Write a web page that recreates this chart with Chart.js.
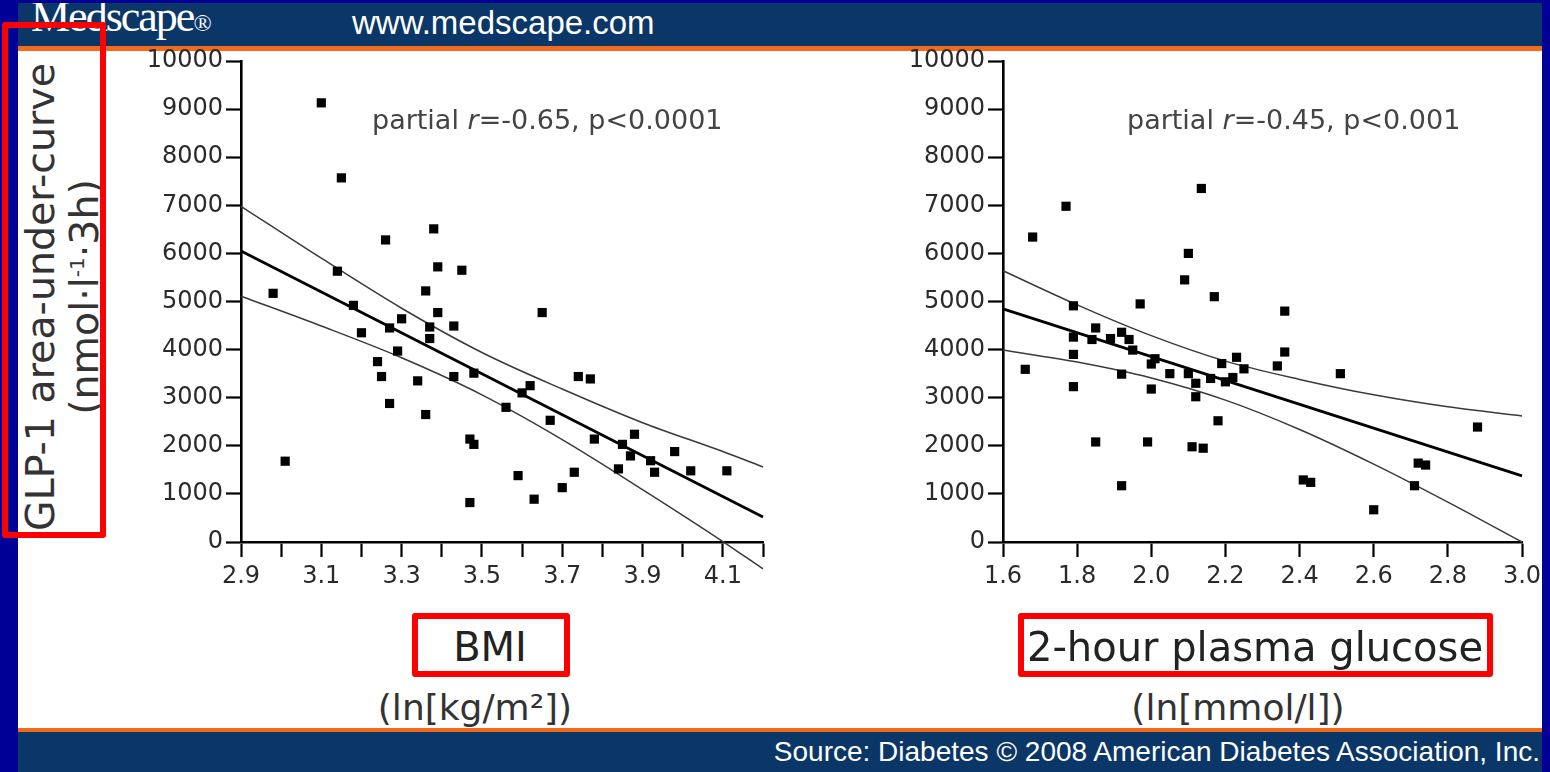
<!DOCTYPE html>
<html lang="en">
<head>
<meta charset="utf-8">
<title>GLP-1 area-under-curve vs BMI and 2-hour plasma glucose</title>
<script src="https://cdn.jsdelivr.net/npm/chart.js@4.4.1/dist/chart.umd.min.js"></script>
<style>
  html, body { margin: 0; padding: 0; }
  body { width: 1550px; height: 772px; position: relative; overflow: hidden; background: #000096; font-family: "DejaVu Sans", Verdana, sans-serif; }
  .band { position: absolute; left: 18px; width: 1524px; background: #0b3668; overflow: hidden; }
  #header { top: 3px; height: 43px; }
  #footer { top: 732px; height: 40px; }
  .rule { position: absolute; left: 18px; width: 1524px; background: #f26a1b; }
  #panel { position: absolute; left: 18px; top: 51px; width: 1524px; height: 677px; background: #fff; }
  #brand { position: absolute; left: 13px; top: -8px; font: 44px/44px "Liberation Serif", serif; color: #fff; letter-spacing: -2px; }
  #brand small { font-size: 24px; letter-spacing: 0; }
  #site { position: absolute; left: 334px; top: 0px; font: 33px/40px "Liberation Sans", Arial, sans-serif; color: #fff; }
  #source { position: absolute; right: 2px; top: 4px; font: 28px/32px "Liberation Sans", Arial, sans-serif; color: #fff; white-space: nowrap; }
  canvas { position: absolute; z-index: 2; }
  #edgeRight { position: absolute; left: 1542px; top: 0; width: 8px; height: 772px; background: #000096; z-index: 3; }
  .txt { position: absolute; white-space: nowrap; text-align: center; color: #222; z-index: 4; }
  .note { position: absolute; white-space: nowrap; color: #444; font-size: 27px; line-height: 30px; z-index: 4; }
  .box { position: absolute; box-sizing: border-box; border: 6px solid #ff0000; border-radius: 3px; z-index: 5; }
  #yTitle { position: absolute; left: -178px; top: 253px; width: 480px; height: 88px; transform: rotate(-90deg); transform-origin: 50% 50%; text-align: center; color: #333; font-size: 39.5px; line-height: 44px; z-index: 4; white-space: nowrap; }
  #yTitle sup { font-size: 20px; vertical-align: 14px; line-height: 0; }
</style>
</head>
<body>
<div id="header" class="band">
  <div id="brand">Medscape<small>®</small></div>
  <div id="site">www.medscape.com</div>
</div>
<div class="rule" style="top:46px;height:5px"></div>
<div id="panel"></div>
<div class="rule" style="top:728px;height:4px"></div>
<div id="footer" class="band">
  <div id="source">Source: Diabetes © 2008 American Diabetes Association, Inc.</div>
</div>

<div id="yTitle">GLP-1 area-under-curve<br>(nmol·l<sup>-1</sup>·3h)</div>
<div class="box" style="left:2px;top:22px;width:104px;height:516px"></div>

<canvas id="bmiChart" width="660" height="580" style="left:120px;top:40px"></canvas>
<canvas id="glucoseChart" width="680" height="580" style="left:870px;top:40px"></canvas>
<div id="edgeRight"></div>

<div class="note" style="left:372px;top:105px">partial <i>r</i>=-0.65, p&lt;0.0001</div>
<div class="note" style="left:1127px;top:105px">partial <i>r</i>=-0.45, p&lt;0.001</div>

<div class="txt" style="left:290px;top:624px;width:400px;font-size:40px;line-height:46px">BMI</div>
<div class="box" style="left:412px;top:613px;width:158px;height:64px"></div>
<div class="txt" style="left:275px;top:688px;width:400px;font-size:36px;line-height:40px;color:#333">(ln[kg/m²])</div>

<div class="txt" style="left:955px;top:624px;width:600px;font-size:40px;line-height:46px">2-hour plasma glucose</div>
<div class="box" style="left:1018px;top:613px;width:475px;height:64px"></div>
<div class="txt" style="left:1038px;top:688px;width:400px;font-size:36px;line-height:40px;color:#333">(ln[mmol/l])</div>

<script>
// GLP-1 AUC (nmol·l-1·3h) against ln(BMI)
const bmiValues = [3.10, 3.15, 2.98, 3.38, 3.26, 3.39, 3.45, 3.14, 3.36, 3.39, 3.65, 3.18, 3.30,
  3.20, 3.27, 3.37, 3.43, 3.37, 3.29, 3.24, 3.25, 3.34, 3.27, 3.36, 3.43, 3.48, 3.62, 3.60,
  3.56, 3.67, 3.74, 3.77, 3.47, 3.48, 3.01, 3.59, 3.63, 3.47, 3.70, 3.73, 3.78, 3.85, 3.88,
  3.87, 3.84, 3.92, 3.93, 3.98, 4.02, 4.11];
const glpByBmi = [9130, 7570, 5170, 6510, 6280, 5720, 5650, 5630, 5220, 4770, 4770, 4920, 4640,
  4350, 4450, 4470, 4490, 4230, 3970, 3750, 3440, 3350, 2880, 2650, 3440, 3510, 3250, 3100,
  2800, 2530, 3440, 3390, 2140, 2030, 1680, 1380, 890, 820, 1130, 1450, 2140, 2030, 2240,
  1790, 1520, 1690, 1450, 1880, 1480, 1480];

// Regression line and its confidence band (BMI panel)
const bmiFitX = [2.9, 4.2];
const bmiFitY = [6050, 520];
const bmiBandX = [2.9, 3.1, 3.3, 3.5, 3.7, 3.9, 4.1, 4.2];
const bmiBandUpper = [6980, 5900, 4860, 3940, 3180, 2480, 1880, 1560];
const bmiBandLower = [5110, 4490, 3830, 3060, 2130, 1090, 10, -560];

// GLP-1 AUC against ln(2-hour plasma glucose)
const glucoseValues = [2.135, 1.77, 1.68, 2.10, 2.09, 2.17, 1.97, 1.79, 2.36, 1.85, 1.79, 1.84,
  1.89, 1.92, 1.94, 1.95, 1.79, 1.66, 1.92, 1.79, 2.01, 2.00, 2.00, 2.05, 2.10, 2.12, 2.12,
  2.16, 2.19, 2.23, 2.20, 2.22, 2.25, 2.18, 2.34, 2.36, 2.51, 2.88, 1.85, 1.99, 2.11, 2.14,
  1.92, 2.41, 2.43, 2.72, 2.74, 2.71, 2.60, 2.02];
const glpByGlucose = [7350, 6980, 6340, 6000, 5450, 5100, 4950, 4910, 4800, 4450, 4260, 4210,
  4230, 4360, 4210, 3990, 3900, 3590, 3490, 3230, 3810, 3700, 3180, 3500, 3500, 3300, 3020,
  3400, 3710, 3840, 3330, 3420, 3600, 2520, 3660, 3950, 3500, 2390, 2080, 2080, 1980, 1950,
  1170, 1290, 1240, 1640, 1600, 1170, 670, -170];

// Regression line and its confidence band (glucose panel)
const glucoseFitX = [1.6, 3.0];
const glucoseFitY = [4845, 1375];
const glucoseBandX = [1.6, 1.8, 2.0, 2.2, 2.4, 2.6, 2.8, 3.0];
const glucoseBandUpper = [5640, 4930, 4290, 3760, 3380, 3060, 2810, 2620];
const glucoseBandLower = [3990, 3740, 3410, 2950, 2340, 1620, 830, 0];

// Axis ticks and labels
const glpTicks = [0, 1000, 2000, 3000, 4000, 5000, 6000, 7000, 8000, 9000, 10000];
const bmiTicks = [2.9, 3.0, 3.1, 3.2, 3.3, 3.4, 3.5, 3.6, 3.7, 3.8, 3.9, 4.0, 4.1, 4.2];
const bmiTickLabels = ['2.9', '3.1', '3.3', '3.5', '3.7', '3.9', '4.1'];
const glucoseTicks = [1.6, 1.8, 2.0, 2.2, 2.4, 2.6, 2.8, 3.0];
const glucoseTickLabels = ['1.6', '1.8', '2.0', '2.2', '2.4', '2.6', '2.8', '3.0'];

Chart.defaults.font.family = '"DejaVu Sans", Verdana, sans-serif';
Chart.defaults.color = '#333';

const pairs = (xs, ys) => xs.map((x, i) => ({ x: x, y: ys[i] }));

function panel(canvasId, o) {
  const datasets = [
    { data: pairs(o.xs, o.ys), pointStyle: 'rect', pointRadius: 6.5, pointBorderWidth: 0,
      backgroundColor: '#000', borderColor: '#000', clip: false },
    { data: pairs(o.fitX, o.fitY), showLine: true, pointRadius: 0, borderColor: '#000', borderWidth: 2.8, clip: false },
    { data: pairs(o.bandX, o.upper), showLine: true, pointRadius: 0, borderColor: '#3a3a3a', borderWidth: 1.5,
      cubicInterpolationMode: 'monotone', clip: false },
    { data: pairs(o.bandX, o.lower), showLine: true, pointRadius: 0, borderColor: '#3a3a3a', borderWidth: 1.5,
      cubicInterpolationMode: 'monotone', clip: false }
  ];
  return new Chart(document.getElementById(canvasId), {
    type: 'scatter',
    data: { datasets: datasets },
    options: {
      responsive: false,
      animation: false,
      devicePixelRatio: 1,
      layout: { padding: { left: 0, right: o.padRight, top: 21, bottom: 18 } },
      plugins: { legend: { display: false }, tooltip: { enabled: false } },
      scales: {
        x: {
          type: 'linear', min: o.xMin, max: o.xMax,
          afterBuildTicks: s => { s.ticks = o.xTicks.map(v => ({ value: v })); },
          afterFit: s => { s.height = 60; },
          border: { display: true, color: '#000', width: 2.6 },
          grid: { display: true, drawOnChartArea: false, drawTicks: true, tickLength: 15,
                  tickColor: '#000', tickWidth: 2.2 },
          ticks: { autoSkip: false, maxRotation: 0, padding: 5, color: '#2a2a2a', font: { size: 24 },
                   callback: v => { const t = Number(v).toFixed(1); return o.xLabels.includes(t) ? t : ''; } }
        },
        y: {
          type: 'linear', min: 0, max: 10000,
          afterBuildTicks: s => { s.ticks = glpTicks.map(v => ({ value: v })); },
          afterFit: s => { s.width = o.yWidth; },
          border: { display: true, color: '#000', width: 2.6 },
          grid: { display: true, drawOnChartArea: false, drawTicks: true, tickLength: 15,
                  tickColor: '#000', tickWidth: 2.2 },
          ticks: { padding: 3, color: '#2a2a2a', font: { size: 24 }, callback: v => String(v) }
        }
      }
    }
  });
}

panel('bmiChart', {
  xs: bmiValues, ys: glpByBmi, fitX: bmiFitX, fitY: bmiFitY,
  bandX: bmiBandX, upper: bmiBandUpper, lower: bmiBandLower,
  xMin: 2.9, xMax: 4.2, xTicks: bmiTicks, xLabels: bmiTickLabels,
  yWidth: 121, padRight: 17
});

panel('glucoseChart', {
  xs: glucoseValues, ys: glpByGlucose, fitX: glucoseFitX, fitY: glucoseFitY,
  bandX: glucoseBandX, upper: glucoseBandUpper, lower: glucoseBandLower,
  xMin: 1.6, xMax: 3.0, xTicks: glucoseTicks, xLabels: glucoseTickLabels,
  yWidth: 133, padRight: 28
});
</script>
</body>
</html>
